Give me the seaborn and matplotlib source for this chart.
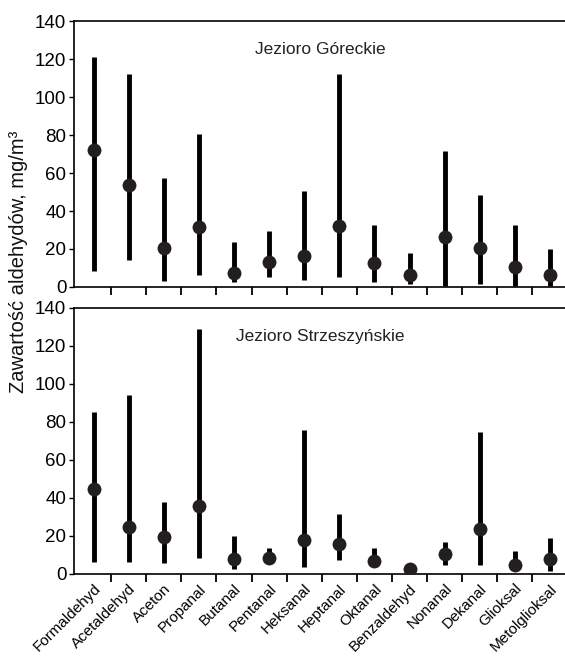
import numpy as np
import pandas as pd
import matplotlib
matplotlib.use("Agg")
import matplotlib.pyplot as plt
import matplotlib.transforms as mtransforms
import seaborn as sns

# Aldehyde concentrations (mg/m3): mean with min-max range for two lakes
compounds = ["Formaldehyd", "Acetaldehyd", "Aceton", "Propanal", "Butanal",
             "Pentanal", "Heksanal", "Heptanal", "Oktanal", "Benzaldehyd",
             "Nonanal", "Dekanal", "Glioksal", "Metolglioksal"]

gor_mean = [72, 53.5, 20.5, 31.5, 7.5, 13.2, 16.5, 32, 12.5, 6.3, 26.5, 20.5, 10.5, 6.3]
gor_min = [8.6, 14, 3.2, 6.3, 2.8, 5.4, 3.7, 5.4, 2.6, 1.7, 0.5, 1.6, 0.7, 0.7]
gor_max = [121, 112, 57.5, 80.5, 23.7, 29.6, 50.5, 112, 32.6, 17.7, 71.6, 48.4, 32.6, 20]

strz_mean = [44.7, 24.7, 19.6, 35.6, 8.1, 8.6, 18.1, 15.8, 7, 2.5, 10.5, 23.8, 4.7, 8]
strz_min = [6.5, 6.5, 6, 8.6, 2.8, 5.5, 3.9, 7.4, 4, 0.5, 4.7, 4.7, 1.5, 1.7]
strz_max = [85.3, 94.2, 37.9, 128.9, 20, 13.9, 75.8, 31.6, 13.9, 3, 16.8, 74.7, 12.1, 18.9]

lake_names = ["Jezioro Góreckie", "Jezioro Strzeszyńskie"]
y_label = "Zawartość aldehydów, mg/m³"
y_ticks = [0, 20, 40, 60, 80, 100, 120, 140]

sns.set_theme(style="ticks")
plt.rcParams["font.family"] = ["Liberation Sans", "DejaVu Sans"]

fig = plt.figure(figsize=(5.65, 6.57), dpi=100)
W, H = 565, 657
ax_top = fig.add_axes([74 / W, 1 - 287 / H, 1 - 74 / W, 266 / H])
ax_bot = fig.add_axes([74 / W, 1 - 574 / H, 1 - 74 / W, 266 / H])

dot_color = "#231f20"


def draw_panel(ax, mean, lo, hi, title, show_labels):
    df = pd.DataFrame({"zwiazek": compounds, "srednia": mean,
                       "min": lo, "max": hi})
    sns.stripplot(data=df, x="zwiazek", y="srednia", order=compounds,
                  jitter=False, size=10, color=dot_color, linewidth=0,
                  zorder=3, ax=ax)
    pos = np.arange(len(compounds))
    ax.vlines(pos, df["min"], df["max"], color="black", linewidth=3.5,
              zorder=2)
    ax.set_xlim(-0.56, 13.43)
    ax.set_ylim(0, 140)
    ax.set_yticks(y_ticks)
    ax.set_xlabel("")
    ax.set_ylabel("")
    ax.set_xticks(pos)
    ax.set_xticks(pos[:-1] + 0.5, minor=True)
    ax.tick_params(axis="x", which="major", length=0, pad=4)
    ax.tick_params(axis="x", which="minor", length=5.5, width=1.3,
                   direction="out", color="black")
    ax.tick_params(axis="y", length=3.5, width=1, labelsize=13.5, pad=2,
                   color="black", labelcolor="black")
    if show_labels:
        labels = ax.set_xticklabels(compounds, rotation=45, ha="right",
                                    rotation_mode="anchor", fontsize=11,
                                    color="black")
        shift = mtransforms.ScaledTranslation(0, -2 / 100,
                                              fig.dpi_scale_trans)
        for lab in labels:
            lab.set_transform(lab.get_transform() + shift)
    else:
        ax.set_xticklabels([])
    for side in ["left", "top", "bottom"]:
        ax.spines[side].set_visible(True)
        ax.spines[side].set_linewidth(1.2)
        ax.spines[side].set_color("black")
    ax.spines["right"].set_visible(False)
    ax.text(6.45, 125, title, ha="center", va="center", fontsize=12.5,
            color="#222222")


draw_panel(ax_top, gor_mean, gor_min, gor_max, lake_names[0], False)
draw_panel(ax_bot, strz_mean, strz_min, strz_max, lake_names[1], True)

fig.text(19 / W, 1 - 262 / H, y_label, rotation=90, ha="center",
         va="center", fontsize=14.5, color="#111111")

fig.savefig("out.png", dpi=100, facecolor="white")
